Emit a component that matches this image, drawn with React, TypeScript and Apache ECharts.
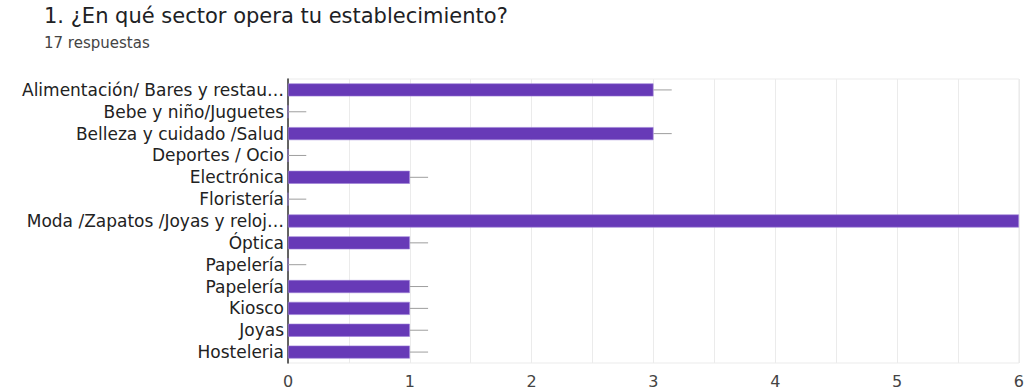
import React, { useEffect, useRef } from "react";
import * as echarts from "echarts";

const categories = [
  "Alimentación/ Bares y restau…",
  "Bebe y niño/Juguetes",
  "Belleza y cuidado /Salud",
  "Deportes / Ocio",
  "Electrónica",
  "Floristería",
  "Moda /Zapatos /Joyas y reloj…",
  "Óptica",
  "Papelería",
  "Papelería",
  "Kiosco",
  "Joyas",
  "Hosteleria",
];
const values = [3, 0, 3, 0, 1, 0, 6, 1, 0, 1, 1, 1, 1];
const xTicks = [0, 1, 2, 3, 4, 5, 6];
const whisker = 0.15;

export default function App() {
  const ref = useRef<HTMLDivElement>(null);
  useEffect(() => {
    if (!ref.current) return;
    const chart = echarts.init(ref.current, undefined, { renderer: "svg" });
    chart.setOption({
      animation: false,
      backgroundColor: "#ffffff",
      graphic: [
        {
          type: "text",
          left: 44,
          top: 5,
          style: {
            text: "1. ¿En qué sector opera tu establecimiento?",
            fontFamily: "DejaVu Sans",
            fontSize: 21,
            fill: "#202124",
          },
        },
        {
          type: "text",
          left: 44,
          top: 35,
          style: {
            text: "17 respuestas",
            fontFamily: "DejaVu Sans",
            fontSize: 15,
            fill: "#444444",
          },
        },
      ],
      grid: {
        left: 288,
        right: 7,
        top: 79,
        bottom: 28,
        show: true,
        borderColor: "#ebebeb",
        borderWidth: 1,
      },
      xAxis: {
        type: "value",
        min: 0,
        max: 6,
        interval: 0.5,
        axisLine: { show: false },
        axisTick: { show: false },
        splitLine: { show: true, lineStyle: { color: "#ebebeb", width: 1 } },
        axisLabel: {
          formatter: (v: number) => (xTicks.includes(v) ? String(v) : ""),
          fontFamily: "DejaVu Sans",
          fontSize: 16,
          color: "#444444",
          margin: 10,
        },
      },
      yAxis: {
        type: "category",
        data: categories,
        inverse: true,
        axisLine: { show: true, lineStyle: { color: "#333333", width: 1.5 } },
        axisTick: { show: false },
        splitLine: { show: false },
        axisLabel: {
          fontFamily: "DejaVu Sans",
          fontSize: 17,
          color: "#222222",
          margin: 4,
          interval: 0,
        },
      },
      series: [
        {
          type: "bar",
          data: values,
          barWidth: 13,
          itemStyle: { color: "#673ab7", borderColor: "#9c7fd6", borderWidth: 0.6 },
        },
        {
          type: "custom",
          clip: true,
          data: values.map((v, i) => [v, i]),
          renderItem: (params: any, api: any) => {
            const v = api.value(0);
            const c = api.value(1);
            const p1 = api.coord([v, c]);
            const p2 = api.coord([v + whisker, c]);
            return {
              type: "line",
              shape: { x1: p1[0], y1: p1[1], x2: p2[0], y2: p2[1] },
              style: { stroke: "#9e9e9e", lineWidth: 1 },
            };
          },
          z: 1,
        },
      ],
    });
    return () => chart.dispose();
  }, []);
  return (
    <div
      ref={ref}
      style={{ position: "absolute", left: 0, top: 0, width: 1027, height: 391 }}
    />
  );
}
